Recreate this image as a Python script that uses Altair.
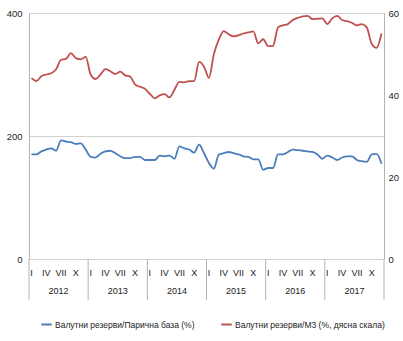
import altair as alt
import pandas as pd

years = ["2012", "2013", "2014", "2015", "2016", "2017"]
month_labels = ["I", "IV", "VII", "X"]
month_offsets = [0, 3, 6, 9]
series_names = ["Валутни резерви/Парична база (%)", "Валутни резерви/М3 (%, дясна скала)"]

# Валутни резерви / Парична база (%), left scale, monthly 2012-2017
base_money = [
    170, 170, 175, 178, 180, 176, 193, 191, 190, 187, 188, 178,
    166, 165, 171, 175, 176, 172, 167, 164, 164, 166, 166, 161,
    161, 161, 168, 167, 168, 163, 183, 180, 178, 173, 186, 172,
    156, 147, 170, 172, 174, 172, 170, 167, 166, 162, 162, 145,
    148, 148, 170, 170, 174, 178, 177, 176, 175, 174, 170, 163,
    168, 165, 161, 165, 167, 167, 161, 159, 158, 170, 171, 155,
]
# Валутни резерви / М3 (%), right scale
m3_ratio = [
    44.1, 43.4, 44.6, 45.0, 45.3, 46.3, 48.6, 48.8, 50.2, 49.0, 48.7, 49.3,
    45.0, 43.9, 45.0, 46.3, 45.8, 45.1, 45.7, 44.8, 44.5, 42.6, 42.0, 41.5,
    40.3, 39.2, 39.9, 40.2, 39.4, 41.3, 43.2, 43.1, 43.4, 43.4, 48.1, 46.9,
    44.2, 50.0, 53.5, 55.6, 54.8, 54.3, 54.6, 55.0, 55.3, 55.5, 52.6, 53.6,
    51.9, 52.0, 56.5, 57.0, 57.3, 58.3, 58.8, 59.2, 59.3, 58.5, 58.6, 58.7,
    57.3, 58.7, 59.3, 58.3, 58.0, 57.6, 57.0, 57.3, 56.5, 52.5, 51.5, 55.0,
]

n = len(base_money)
df_blue = pd.DataFrame({"t": [i + 0.5 for i in range(n)], "v": base_money, "s": series_names[0]})
df_red = pd.DataFrame({"t": [i + 0.5 for i in range(n)], "v": m3_ratio, "s": series_names[1]})
df_years = pd.DataFrame({"t": [k * 12 + 6 for k in range(len(years))], "year": years})
df_sep = pd.DataFrame({"t": [k * 12 for k in range(len(years) + 1)]})
df_months = pd.DataFrame({
    "t": [k * 12 + o + 0.5 for k in range(len(years)) for o in month_offsets],
    "m": [lab for _ in years for lab in month_labels],
})

FONT = "Liberation Sans"
AXIS_GRAY = "#b3b3b3"
GRID_GRAY = "#d0d0d0"
TXT = "#222222"
BLUE = "#4A7EBB"
RED = "#C0504D"

xscale = alt.Scale(domain=[0, 72], nice=False, zero=False)

color = alt.Color(
    "s:N",
    scale=alt.Scale(domain=series_names, range=[BLUE, RED]),
    legend=alt.Legend(
        title=None, orient="none", direction="horizontal",
        legendX=11, legendY=305,
        symbolType="stroke", symbolStrokeWidth=2, symbolSize=110,
        labelFontSize=8.5, labelFont=FONT, labelColor=TXT,
        columnPadding=22, labelOffset=2, labelLimit=300,
    ),
)

blue = alt.Chart(df_blue).mark_line(strokeWidth=1.8, interpolate="monotone").encode(
    x=alt.X("t:Q", scale=xscale, axis=alt.Axis(
        title=None, grid=False, ticks=False, labels=False,
        domainColor=AXIS_GRAY, domainWidth=1,
    )),
    y=alt.Y("v:Q", scale=alt.Scale(domain=[0, 400], nice=False), axis=alt.Axis(
        values=[0, 200, 400], title=None, ticks=False, grid=True, gridColor=GRID_GRAY,
        domainColor=AXIS_GRAY, labelFontSize=9.5, labelFont=FONT, labelColor=TXT,
        labelPadding=7,
    )),
    color=color,
)

red = alt.Chart(df_red).mark_line(strokeWidth=1.8, interpolate="monotone").encode(
    x=alt.X("t:Q", scale=xscale, axis=None),
    y=alt.Y("v:Q", scale=alt.Scale(domain=[0, 60], nice=False), axis=alt.Axis(
        orient="right", values=[0, 20, 40, 60], title=None, ticks=False, grid=False,
        domainColor=AXIS_GRAY, labelFontSize=9.5, labelFont=FONT, labelColor=TXT,
        labelPadding=4,
    )),
    color=color,
)

seps = alt.Chart(df_sep).mark_rule(color=AXIS_GRAY, strokeWidth=1).encode(
    x=alt.X("t:Q", scale=xscale, axis=None),
    y=alt.value(246),
    y2=alt.value(287),
)

month_text = alt.Chart(df_months).mark_text(
    fontSize=9, font=FONT, color=TXT, baseline="middle", align="center"
).encode(
    x=alt.X("t:Q", scale=xscale, axis=None),
    y=alt.value(260),
    text="m:N",
)

year_text = alt.Chart(df_years).mark_text(
    fontSize=9, font=FONT, color=TXT, baseline="middle", align="center"
).encode(
    x=alt.X("t:Q", scale=xscale, axis=None),
    y=alt.value(278),
    text="year:N",
)

left_layer = alt.layer(blue, seps, month_text, year_text)
chart = alt.layer(left_layer, red).resolve_scale(y="independent").properties(
    width=355, height=246,
    autosize=alt.AutoSizeParams(type="none"),
    padding={"left": 29, "top": 13, "right": 19, "bottom": 82},
).configure_view(stroke=None).configure(background="white")

chart.save("out.html", embed_options={"renderer": "svg", "actions": False})
